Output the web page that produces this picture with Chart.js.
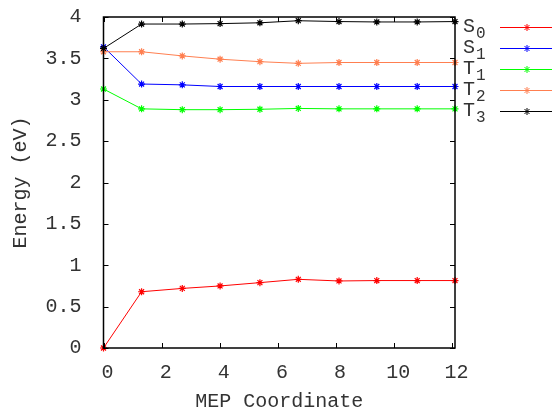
<!DOCTYPE html>
<html><head><meta charset="utf-8">
<script src="https://cdn.jsdelivr.net/npm/chart.js@4.4.0/dist/chart.umd.min.js"></script>
<style>html,body{margin:0;padding:0;background:#fff}#wrap{width:552px;height:410px}</style>
</head><body><div id="wrap"><canvas id="c" width="552" height="410"></canvas></div>
<script>
const mepCoordinate = [0, 1.31, 2.71, 4.01, 5.38, 6.70, 8.10, 9.40, 10.79, 12.09];
const seriesNames = ['S0', 'S1', 'T1', 'T2', 'T3'];
const S0 = [0, 0.68, 0.72, 0.75, 0.79, 0.83, 0.81, 0.815, 0.815, 0.815];
const S1 = [3.64, 3.19, 3.18, 3.16, 3.16, 3.16, 3.16, 3.16, 3.16, 3.16];
const T1 = [3.13, 2.89, 2.88, 2.88, 2.885, 2.895, 2.89, 2.89, 2.89, 2.89];
const T2 = [3.58, 3.58, 3.53, 3.49, 3.46, 3.44, 3.45, 3.45, 3.45, 3.45];
const T3 = [3.62, 3.915, 3.915, 3.92, 3.93, 3.955, 3.945, 3.94, 3.94, 3.945];
const seriesColors = ['#ff0000', '#0000ff', '#00ff00', '#ff7f50', '#000000'];
const xTickValues = [0, 2, 4, 6, 8, 10, 12];
const yTickValues = [0, 0.5, 1, 1.5, 2, 2.5, 3, 3.5, 4];
const xTitle = 'MEP Coordinate';
const yTitle = 'Energy (eV)';

const FONT = "'Liberation Mono', 'DejaVu Sans Mono', monospace";
const allSeries = [S0, S1, T1, T2, T3];

const datasets = allSeries.map((vals, i) => ({
  label: seriesNames[i],
  data: mepCoordinate.map((x, j) => ({ x: x, y: vals[j] })),
  borderColor: seriesColors[i],
  backgroundColor: seriesColors[i],
  pointBorderColor: seriesColors[i],
  borderWidth: 1,
  pointStyle: 'star',
  pointRadius: 3.5,
  pointBorderWidth: 1.2,
  tension: 0,
  clip: false,
  order: allSeries.length - i
}));

const framePlugin = {
  id: 'frame',
  afterDatasetsDraw(chart) {
    const ctx = chart.ctx;
    const a = chart.chartArea;
    const xs = chart.scales.x, ys = chart.scales.y;
    ctx.save();
    ctx.strokeStyle = '#000';
    ctx.lineWidth = 1.5;
    ctx.strokeRect(a.left, a.top, a.right - a.left, a.bottom - a.top);
    ctx.lineWidth = 1;
    const tl = 5;
    ctx.beginPath();
    xs.ticks.forEach(t => {
      const px = Math.round(xs.getPixelForValue(t.value)) + 0.5;
      ctx.moveTo(px, a.bottom); ctx.lineTo(px, a.bottom - tl);
      ctx.moveTo(px, a.top); ctx.lineTo(px, a.top + tl);
    });
    ys.ticks.forEach(t => {
      const py = Math.round(ys.getPixelForValue(t.value)) + 0.5;
      ctx.moveTo(a.left, py); ctx.lineTo(a.left + tl, py);
      ctx.moveTo(a.right, py); ctx.lineTo(a.right - tl, py);
    });
    ctx.stroke();

    // gnuplot-style key: label, then sample line with marker
    const x0 = 463, lineX1 = 500, lineX2 = 556, rowY0 = 27, rowH = 21;
    chart.data.datasets.forEach((ds, i) => {
      const y = rowY0 + i * rowH;
      ctx.fillStyle = '#333';
      ctx.textBaseline = 'middle';
      ctx.textAlign = 'left';
      ctx.font = '20px ' + FONT;
      const main = ds.label.charAt(0);
      ctx.fillText(main, x0, y);
      const w = ctx.measureText(main).width;
      ctx.font = '16px ' + FONT;
      ctx.fillText(ds.label.slice(1), x0 + w + 1, y + 7);
      ctx.strokeStyle = ds.borderColor;
      ctx.lineWidth = 1;
      ctx.beginPath();
      ctx.moveTo(lineX1, y + 0.5); ctx.lineTo(lineX2, y + 0.5);
      ctx.stroke();
      Chart.helpers.drawPoint(ctx, { pointStyle: 'star', radius: 3.5, borderWidth: 1.2 }, 527, y + 0.5);
    });
    ctx.restore();
  }
};

new Chart(document.getElementById('c'), {
  type: 'line',
  data: { datasets: datasets },
  options: {
    responsive: false,
    animation: false,
    devicePixelRatio: 1,
    layout: { padding: { top: 17, right: 97, left: 0, bottom: 0 } },
    plugins: { legend: { display: false }, tooltip: { enabled: false } },
    scales: {
      x: {
        type: 'linear',
        min: 0, max: 12.09,
        afterFit(s) { s.height = 62; s.paddingLeft = 0; s.paddingRight = 0; },
        afterBuildTicks(s) { s.ticks = xTickValues.map(v => ({ value: v })); },
        grid: { display: false },
        border: { display: false },
        ticks: { font: { family: FONT, size: 20 }, color: '#333', padding: 5, labelOffset: 4, maxRotation: 0, autoSkip: false,
                  callback: v => String(v) },
        title: { display: true, text: xTitle, font: { family: FONT, size: 20, lineHeight: 1 }, color: '#333', padding: -2 }
      },
      y: {
        type: 'linear',
        min: 0, max: 4,
        afterFit(s) { s.width = 103.5; s.paddingTop = 0; s.paddingBottom = 0; },
        afterBuildTicks(s) { s.ticks = yTickValues.map(v => ({ value: v })); },
        grid: { display: false },
        border: { display: false },
        ticks: { font: { family: FONT, size: 20 }, color: '#333', padding: 14, autoSkip: false,
                 callback: v => String(v) },
        title: { display: true, text: yTitle, font: { family: FONT, size: 20, lineHeight: 1 }, color: '#333', padding: 11 }
      }
    }
  },
  plugins: [framePlugin]
});
</script></body></html>
